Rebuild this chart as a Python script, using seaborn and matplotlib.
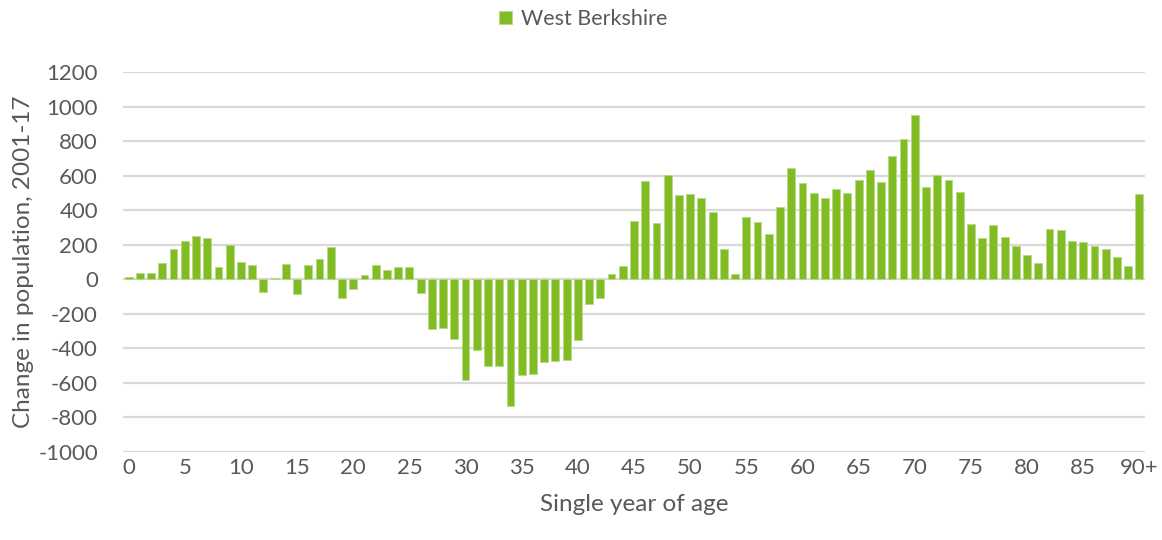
import matplotlib
matplotlib.use("Agg")
import matplotlib.pyplot as plt
import seaborn as sns
import pandas as pd

ages = [str(i) for i in range(90)] + ["90+"]
change = [15, 38, 37, 96, 173, 221, 252, 238, 71, 200,
          100, 81, -73, 10, 87, -83, 83, 119, 187, -106,
          -57, 25, 85, 52, 73, 73, -77, -288, -281, -346,
          -585, -408, -502, -500, -735, -556, -548, -481, -475, -469,
          -352, -146, -110, 31, 78, 337, 570, 325, 603, 490,
          494, 471, 388, 175, 31, 360, 331, 262, 416, 643,
          555, 500, 469, 521, 498, 577, 633, 562, 712, 813,
          953, 537, 603, 575, 506, 321, 240, 315, 244, 195,
          141, 93, 292, 284, 222, 216, 195, 178, 131, 79, 492]
series_name = "West Berkshire"
yticks = list(range(-1000, 1201, 200))
xtick_labels = [str(i) for i in range(0, 90, 5)] + ["90+"]

df = pd.DataFrame({"age": ages, "change": change, "series": series_name})

sns.set_theme(style="white")
plt.rcParams["font.family"] = ["Lato", "DejaVu Sans"]
text_color = "#595959"
green = "#82BC24"

fig = plt.figure(figsize=(11.62, 5.40), dpi=100)
ax = fig.add_axes([123 / 1162, 1 - 452 / 540, (1145 - 123) / 1162, (452 - 72) / 540])

sns.barplot(data=df, x="age", y="change", hue="series", order=ages,
            palette=[green], width=0.7, ax=ax, saturation=1, legend=True,
            edgecolor="#B5DA84", linewidth=0.6)

ax.set_ylim(-1000, 1200)
ax.set_xlim(-0.5, len(ages) - 0.5)
ax.set_yticks(yticks)
ax.set_yticklabels([str(v) for v in yticks])
tick_pos = [ages.index(l) for l in xtick_labels]
ax.set_xticks(tick_pos)
ax.set_xticklabels(xtick_labels)
ax.tick_params(axis="both", length=0, labelsize=16, colors=text_color)
ax.tick_params(axis="x", pad=4)
ax.tick_params(axis="y", pad=18)
for y in yticks:
    ax.axhline(y, color="#D9D9D9", lw=1.6, zorder=0)
for s in ax.spines.values():
    s.set_visible(False)
ax.set_axisbelow(True)

ax.set_xlabel("Single year of age", fontsize=17.5, color=text_color, labelpad=12)
ax.set_ylabel("Change in population, 2001-17", fontsize=17.5, color=text_color, labelpad=3)

handles, labels = ax.get_legend_handles_labels()
ax.get_legend().remove()
leg = fig.legend(handles, labels, loc="center", bbox_to_anchor=(0.502, 1 - 19 / 540),
                 frameon=False, fontsize=15.5, handlelength=0.6, handleheight=0.6,
                 handletextpad=0.4)
for t in leg.get_texts():
    t.set_color(text_color)

fig.savefig("out.png", dpi=100)
